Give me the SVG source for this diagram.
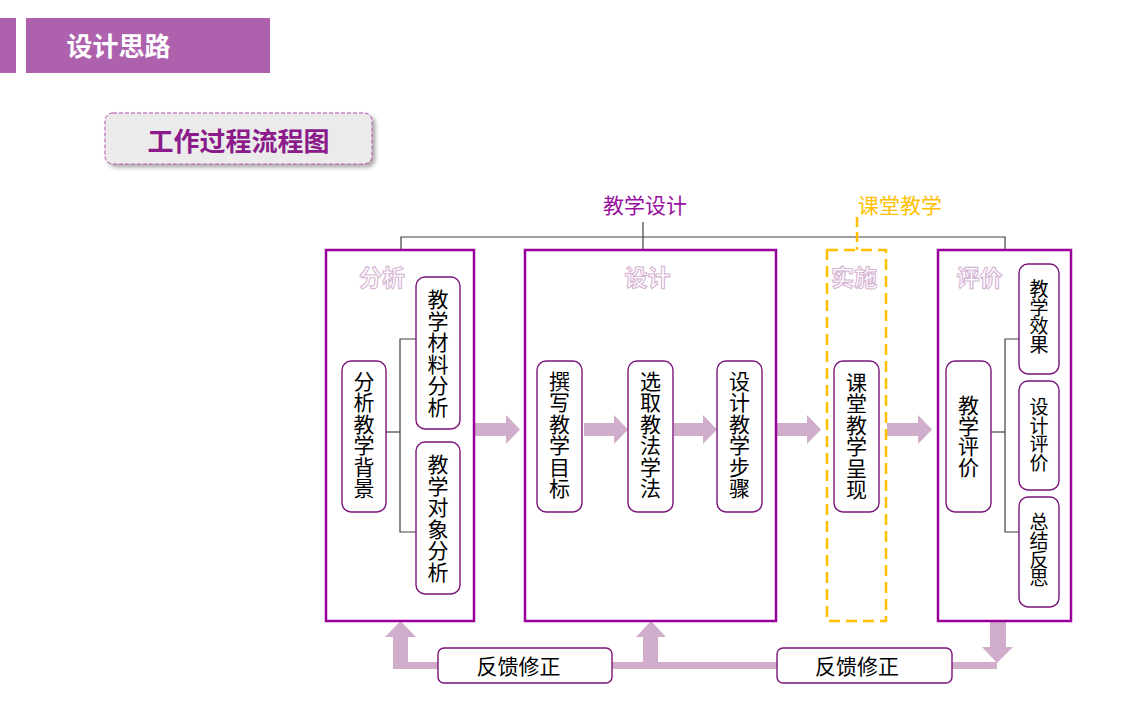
<svg xmlns="http://www.w3.org/2000/svg" width="1128" height="709" viewBox="0 0 1128 709">
<defs>
<style>
.cjk{font-family:"Noto Sans CJK SC","Noto Sans",sans-serif;}
.main{fill:none;stroke:#990099;stroke-width:2.5;}
.inner{fill:#fff;stroke:#7A147A;stroke-width:1.4;}
.vt{font-size:21px;fill:#000;text-anchor:middle;writing-mode:vertical-rl;text-orientation:upright;letter-spacing:0.5px;}
.vs{font-size:19px;fill:#000;text-anchor:middle;writing-mode:vertical-rl;text-orientation:upright;letter-spacing:-0.3px;}
.wm{font-size:23px;font-weight:bold;fill:#fff;stroke:#D6B4D4;stroke-width:1.1;text-anchor:middle;}
.arr{fill:#CFADCB;}
.br{fill:none;stroke:#404040;stroke-width:1.2;}
</style>
<filter id="sh" x="-10%" y="-20%" width="130%" height="160%">
<feDropShadow dx="3" dy="3" stdDeviation="2" flood-color="#000" flood-opacity="0.35"/>
</filter>
</defs>
<rect width="1128" height="709" fill="#fff"/>

<g id="header">
<rect x="0" y="18" width="16" height="55" fill="#AE62AE"/>
<rect x="26" y="18" width="244" height="55" fill="#AE62AE"/>
<text class="cjk" x="118.5" y="55.5" font-size="26" font-weight="bold" fill="#fff" text-anchor="middle">设计思路</text>
</g>

<g id="title">
<rect x="105" y="113" width="267" height="51" rx="8" fill="#EBEBEB" stroke="#B050B0" stroke-width="1" stroke-dasharray="4 2" filter="url(#sh)"/>
<text class="cjk" x="238.5" y="150.5" font-size="26" font-weight="bold" fill="#8B1A8B" text-anchor="middle">工作过程流程图</text>
</g>

<g id="connectors">
<polyline class="br" points="401,250 401,237 1005,237 1005,250"/>
<line class="br" x1="643" y1="222" x2="643" y2="250"/>
<line x1="857" y1="217" x2="857" y2="250" stroke="#FFC000" stroke-width="2.5" stroke-dasharray="10 5"/>
<polyline class="br" points="416,339 400,339 400,532 416,532"/>
<line class="br" x1="386" y1="432" x2="400" y2="432"/>
<polyline class="br" points="1019,339 1005,339 1005,532 1019,532"/>
<line class="br" x1="991" y1="432" x2="1005" y2="432"/>
<polygon class="arr" points="475,423 506,423 506,415 520,429.5 506,444 506,436 475,436"/>
<polygon class="arr" points="584,423 614,423 614,415 628,429.5 614,444 614,436 584,436"/>
<polygon class="arr" points="674,423 703,423 703,415 717,429.5 703,444 703,436 674,436"/>
<polygon class="arr" points="777,423 807,423 807,415 821,429.5 807,444 807,436 777,436"/>
<polygon class="arr" points="887,423 918,423 918,415 932,429.5 918,444 918,436 887,436"/>
<polygon class="arr" points="393,669 393,637 385,637 400.5,621 416,637 408,637 408,662 643,662 643,637 636,637 651,621 666,637 658,637 658,662 997,662 997,669"/>
<polygon class="arr" points="990,621 1006,621 1006,647 1013,647 997,663 982,647 990,647"/>
</g>

<g id="label-jxsj">
<text class="cjk" x="645" y="212.5" font-size="21" fill="#99109F" text-anchor="middle">教学设计</text>
</g>
<g id="label-ktjx">
<text class="cjk" x="900" y="212.5" font-size="21" fill="#FFC000" text-anchor="middle">课堂教学</text>
</g>

<g id="stage-analysis">
<rect class="main" x="326" y="250" width="148" height="371"/>
<text class="cjk wm" x="382" y="286">分析</text>
</g>
<g id="stage-design">
<rect class="main" x="525" y="250" width="251" height="371"/>
<text class="cjk wm" x="647.5" y="286">设计</text>
</g>
<g id="stage-implement">
<rect x="827" y="250" width="59" height="371" fill="none" stroke="#FFC000" stroke-width="2.5" stroke-dasharray="11 6"/>
<text class="cjk wm" x="854" y="286">实施</text>
</g>
<g id="stage-evaluate">
<rect class="main" x="938" y="250" width="133" height="371"/>
<text class="cjk wm" x="979.5" y="286">评价</text>
</g>

<g id="n-bg">
<rect class="inner" x="342" y="361" width="44" height="151" rx="9"/>
<text class="cjk vt" x="364" y="435">分析教学背景</text>
</g>
<g id="n-cl">
<rect class="inner" x="416" y="277" width="44" height="152" rx="9"/>
<text class="cjk vt" x="438" y="353.5">教学材料分析</text>
</g>
<g id="n-dx">
<rect class="inner" x="416" y="442" width="44" height="152" rx="9"/>
<text class="cjk vt" x="438" y="518.5">教学对象分析</text>
</g>

<g id="n-mb">
<rect class="inner" x="537" y="361" width="45" height="151" rx="9"/>
<text class="cjk vt" x="559.5" y="435">撰写教学目标</text>
</g>
<g id="n-ff">
<rect class="inner" x="628" y="361" width="45" height="151" rx="9"/>
<text class="cjk vt" x="650.5" y="435">选取教法学法</text>
</g>
<g id="n-bz">
<rect class="inner" x="717" y="361" width="45" height="151" rx="9"/>
<text class="cjk vt" x="739.5" y="435">设计教学步骤</text>
</g>

<g id="n-cx">
<rect class="inner" x="834" y="361" width="45" height="151" rx="9"/>
<text class="cjk vt" x="856.5" y="436">课堂教学呈现</text>
</g>

<g id="n-pj">
<rect class="inner" x="946" y="361" width="45" height="151" rx="9"/>
<text class="cjk vt" x="968.5" y="436" style="letter-spacing:-0.5px">教学评价</text>
</g>
<g id="n-xg">
<rect class="inner" x="1019" y="264" width="40" height="110" rx="9"/>
<text class="cjk vs" x="1039" y="316.5">教学效果</text>
</g>
<g id="n-sp">
<rect class="inner" x="1019" y="381" width="40" height="109" rx="9"/>
<text class="cjk vs" x="1039" y="434.5">设计评价</text>
</g>
<g id="n-fs">
<rect class="inner" x="1019" y="497" width="40" height="110" rx="9"/>
<text class="cjk vs" x="1039" y="550">总结反思</text>
</g>

<g id="fb1">
<rect class="inner" x="438" y="648" width="174" height="35" rx="6"/>
<text class="cjk" x="518.5" y="674" font-size="21" fill="#000" text-anchor="middle">反馈修正</text>
</g>
<g id="fb2">
<rect class="inner" x="777" y="648" width="175" height="35" rx="6"/>
<text class="cjk" x="857" y="674" font-size="21" fill="#000" text-anchor="middle">反馈修正</text>
</g>
</svg>
